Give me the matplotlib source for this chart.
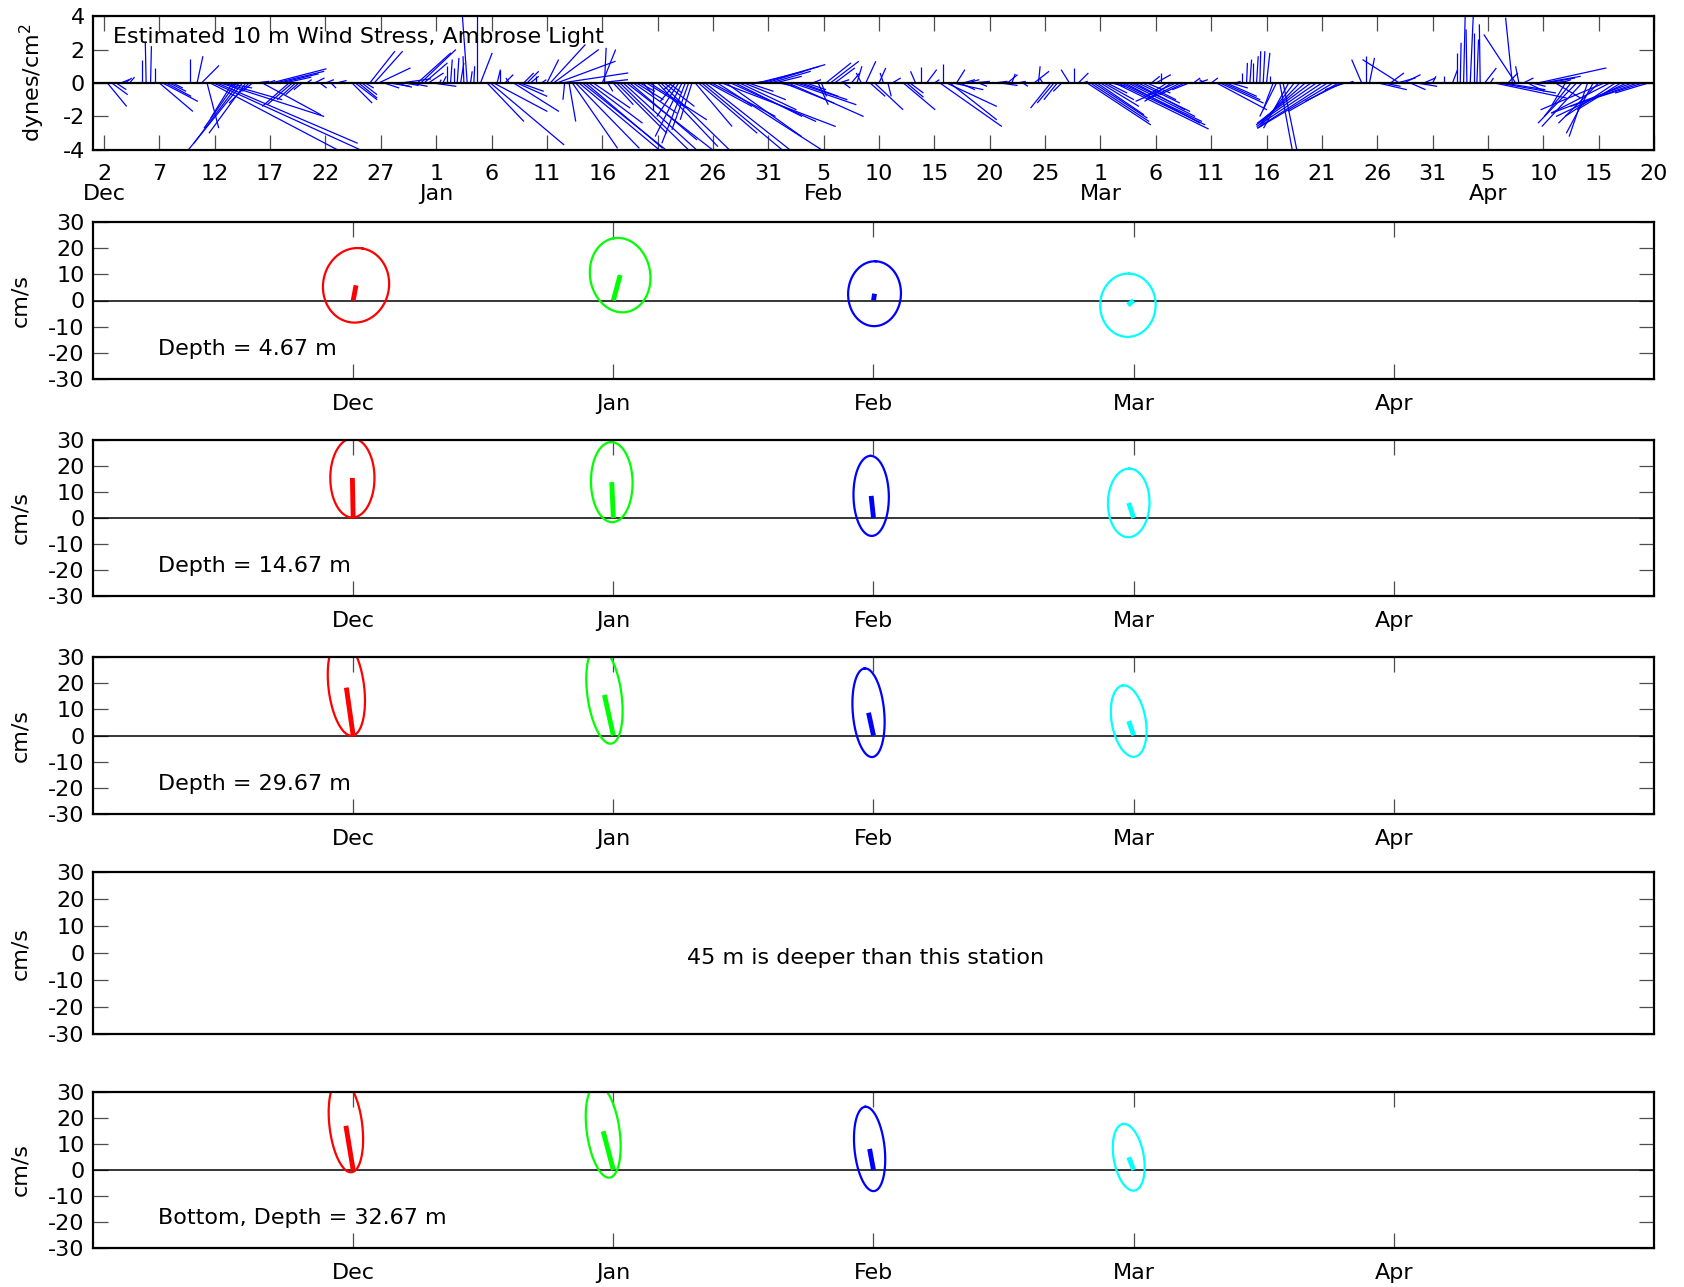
import datetime as dt
import numpy as np
import matplotlib.pyplot as plt
from matplotlib.collections import LineCollection

plt.rcParams['font.family'] = ['DejaVu Sans']
plt.rcParams['font.size'] = 16
plt.rcParams['axes.unicode_minus'] = False

# ---------------------------------------------------------------------------
# wind stress sticks: day after 1 Dec, east and north stress (dynes/cm^2)
# ---------------------------------------------------------------------------
wind_day = [
    1.3, 1.7, 2.1, 2.5, 2.9, 3.3, 4.4, 4.8, 5.2, 5.6, 6.0, 6.3, 6.6, 6.9, 7.2, 8.8, 9.4, 9.8,
    10.3, 10.6, 10.9, 11.2, 11.5, 11.8, 12.1, 12.6, 12.9, 13.2, 13.5, 13.8, 14.1, 14.4, 14.7,
    15.3, 15.7, 16.1, 16.5, 16.9, 17.3, 17.7, 18.0, 18.3, 18.6, 18.9, 19.3, 20.0, 20.5, 21.0, 21.5, 22.0,
    23.4, 23.7, 24.0, 24.3, 24.6, 25.0, 25.4, 25.8, 26.3, 26.8, 27.3, 27.8, 28.2, 28.7, 29.3, 29.6, 29.9, 30.3, 30.7,
    31.3, 31.6, 32.0, 32.3, 32.6, 32.9, 33.2, 33.5, 33.8, 34.1, 34.4, 34.7, 35.0,
    35.6, 35.9, 36.2, 36.5, 36.8, 37.2, 37.6, 38.0, 38.3, 38.6, 38.9, 39.2, 39.5, 40.0, 40.5,
    41.0, 41.3, 41.6, 41.9, 42.3, 42.6, 43.0, 43.3, 43.6, 43.9, 44.2, 44.5, 44.8, 45.2, 45.6, 46.0, 46.2, 46.5,
    47.0, 47.3, 47.6, 47.9, 48.2, 48.5, 48.8, 49.1, 49.4, 49.7, 50.0, 50.3, 50.6, 51.0, 51.3,
    51.6, 52.0, 52.3, 52.6, 52.9, 53.2, 53.5, 53.8, 54.1, 54.4, 54.7, 55.0, 55.3, 55.6, 55.9,
    56.4, 56.8, 57.2, 57.6, 58.0, 58.4, 58.8, 59.2, 59.6, 60.0, 60.4, 60.8, 61.2, 61.6, 62.0,
    62.4, 62.8, 63.2, 63.6, 64.0, 64.4, 65.0, 65.5, 65.8, 66.2, 66.6, 67.0, 67.4, 67.8,
    68.5, 69.0, 69.4, 69.8, 70.2, 70.6, 71.0, 71.4, 71.8, 72.2, 73.2, 73.5, 73.8, 74.3, 74.8,
    75.3, 76.0, 76.5, 76.8, 77.1, 77.4, 77.7, 78.0, 78.3, 78.6, 79.0, 79.5, 80.0,
    81.4, 82.0, 82.6, 83.0, 83.5, 84.0, 85.0, 85.4, 85.8, 86.5, 86.8, 87.1, 87.5, 88.2, 88.6, 89.0, 89.4,
    89.8, 90.1, 90.4, 90.7, 91.0, 91.3, 91.6, 92.0, 92.3, 92.6, 92.9, 93.2, 93.5, 93.8, 94.1,
    94.4, 94.8, 95.2, 95.6, 96.0, 96.5, 97.0, 97.4, 97.8, 98.2, 98.6, 99.0, 99.4, 99.8, 100.4,
    101.0, 101.5, 101.8, 102.1, 102.4, 102.8, 103.2, 103.8, 104.2, 104.5, 104.8, 105.1, 105.4, 105.7, 106.0,
    106.3, 106.6, 106.9, 107.2, 107.5, 108.0, 108.5, 109.0, 109.5, 110.0, 110.5, 111.0, 111.5, 112.0,
    112.5, 112.8, 113.1, 113.4,
    114.6, 115.0, 115.3, 116.1, 116.6, 117.2, 117.8, 118.0, 118.4, 119.0,
    119.6, 120.2, 121.0, 122.0, 122.8, 123.2, 123.5, 123.8, 124.1, 124.4,
    124.7, 125.0, 125.3, 125.7, 126.2, 126.6, 127.0, 127.4, 127.8, 128.2,
    128.5, 128.8, 129.2, 129.6, 130.0, 130.5, 130.9, 131.3, 131.7, 132.1,
    132.6, 133.0, 133.5, 134.0, 134.5, 135.0, 135.5, 136.0, 136.5, 137.0,
    137.5, 138.0, 138.5, 139.0, 139.5, 140.0, 140.5,
]
wind_u = [
    1.15, 0.95, 0.6, 0.5, 0.4, 0.3, 0.0, -0.05, 0.05, 0.0, 2.0, 2.1, 1.5, 1.0, 0.6, 0.0, 0.35, 1.05,
    0.7, 7.8, 9.0, 8.4, 6.2, 3.5, 1.5, -1.3, -1.9, -2.7, -3.4, -2.2, -1.2, -0.6, 0.8,
    3.5, 0.5, 3.3, 2.9, 2.3, 1.6, -1.6, -1.5, -1.1, -0.8, -0.5, 0.3, 0.6, 0.4, 0.5, 0.3, 0.6,
    1.2, 1.3, 1.1, 0.9, 0.5, 1.5, 1.7, 1.9, 0.9, 1.2, 1.0, 1.8, 0.8, 1.0, 2.0, 2.1, 1.4, 0.9, 1.4,
    0.1, 0.2, 0.0, 0.1, 0.0, 0.1, 0.2, -0.05, -0.3, 0.1, 0.05, 0.0, 0.7,
    2.2, 4.4, 3.2, 0.2, 0.0, 0.5, -0.2, 2.7, 1.8, 1.4, 0.6, 0.7, 0.5, 0.0, 0.3,
    0.7, 2.1, 2.7, 3.5, 4.0, -0.1, 0.4, 2.7, 3.8, 4.8, 5.0, 4.6, 3.2, 2.2, 1.8, 0.8, 0.1, 0.3,
    1.2, 3.0, 4.2, 4.6, 5.4, 4.0, 2.6, 1.6, 0.9, 0.6, 2.4, 3.4, 0.0, 3.6, 4.2,
    1.8, 0.8, -0.5, -0.9, -1.3, -1.6, -1.4, -1.0, -0.7, 2.2, 3.5, 4.8, 5.2, 2.6, 3.8,
    6.4, 6.8, 4.5, 5.1, 4.0, 3.4, 2.5, 1.5, 0.8, 2.8, 3.8, 3.2, 2.4, 1.6, 0.9,
    3.0, 4.5, 3.8, 3.0, 2.2, 1.2, 0.5, 0.6, 0.3, 1.5, 1.7, 1.2, 0.6, 0.4,
    0.5, 0.3, -0.3, 0.6, 0.9, 1.7, 0.4, -0.2, 0.2, 0.5, 1.9, 1.0, 0.8, -0.3, 0.0,
    0.6, 0.3, 3.7, 0.0, 3.0, 2.8, 1.8, 0.5, 0.9, 0.7, 0.7, 1.0, 0.5,
    0.8, 1.0, 0.6, 0.2, 0.5, 0.3, 0.9, 0.1, -0.2, -1.2, -1.0, -0.8, -0.5, -0.5, 0.0, 0.6, 0.3,
    3.8, 3.5, 3.2, 2.8, 2.3, 1.8, 1.2, 0.8, 5.6, 5.2, 4.8, 4.5, 4.0, 3.5, 3.0,
    2.5, 2.0, 1.4, 0.5, 0.9, 0.0, -1.4, -1.6, -2.4, -2.0, -1.5, -1.0, 0.4, 0.6, -0.3,
    0.4, 3.0, 2.6, 2.2, 1.8, 1.0, 0.3, 0.0, 0.05, 0.1, 0.0, 0.1, 0.05, 0.1, 0.2,
    0.0, -0.6, -1.0, 0.8, 0.9, -1.5, -2.0, -2.4, -2.8, -3.2, -3.6, -3.9, -4.2, -4.5,
    -3.0, -2.2, -1.2, 0.3,
    -0.6, 0.0, 0.3, 1.7, 1.0, 0.8, 1.1, -2.2, 1.0, 0.9,
    1.2, 0.7, 0.2, 0.0, 0.3, 0.0, 0.05, 0.1, -0.05, 0.2,
    0.0, 0.1, -0.05, 0.7, 0.2, 4.3, 3.4, 2.5, 0.6, -0.4,
    -1.9, -0.2, 0.6, 1.0, 0.8, 4.1, 2.3, 1.7, 0.9, 1.5,
    0.6, -0.8, -1.6, -2.3, -2.4, -1.1, -1.6, -2.4, -3.8, -3.5,
    -3.0, -2.6, -4.2, -4.8, -4.0, -3.2, -2.0,
]
wind_v = [
    -1.4, -0.7, -0.4, 0.2, 0.3, 0.35, 1.4, 2.4, 2.2, 0.9, -1.7, -1.1, -0.8, -0.5, -0.3, 1.45, 1.6, 1.05,
    -2.7, -4.1, -4.1, -3.6, -2.0, -1.0, -0.3, -2.1, -2.7, -3.6, -4.2, -3.0, -1.2, -0.5, 0.1,
    -1.9, 0.15, 0.85, 0.7, 0.55, 0.35, -1.4, -1.3, -1.0, -0.7, -0.4, 0.2, 0.3, -0.3, 0.2, -0.3, 0.15,
    -1.2, -1.0, -0.9, -0.7, -0.3, 1.9, 1.9, 0.9, -0.3, -0.2, -0.25, 0.25, -0.15, -0.2, 1.8, 2.0, 1.2, 0.6, -0.2,
    0.2, 0.4, 1.0, 1.4, 0.9, 1.5, 1.2, 1.6, 4.2, 0.7, 1.0, 4.3, 1.8,
    -2.3, -3.7, -1.7, 0.8, 0.8, 0.5, 0.3, -1.7, -0.8, -0.5, 0.6, 0.7, 0.4, 0.4, 0.2,
    1.4, 2.3, 2.0, 1.3, 0.6, -1.0, -2.3, -3.9, -3.9, -4.0, -4.0, -3.9, -2.4, -1.5, 0.2, 2.0, 2.1, -0.5,
    -1.3, -3.0, -4.1, -4.2, -4.2, -3.4, -1.8, -1.0, -0.5, -0.7, -1.5, -2.2, -1.6, -3.8, -4.1,
    -1.4, -0.6, -0.4, -1.1, -2.0, -3.2, -3.6, -2.8, -2.2, -2.6, -3.0, -4.0, -4.1, -1.4, -2.0,
    -4.1, -2.6, -3.2, -2.3, -2.0, -1.6, -1.0, -0.5, 0.1, 0.7, 1.1, 1.0, 0.7, 0.4, -0.2,
    -1.2, -2.0, -1.3, -1.0, -0.8, -0.4, 0.2, -1.3, -0.8, 1.2, 1.3, 0.9, 0.2, -0.3,
    0.6, 1.0, 0.6, 1.3, -0.8, -1.6, 0.9, 0.6, -0.8, 0.3, -1.6, -0.85, -0.6, 0.7, 0.95,
    0.8, 0.2, -2.6, 1.15, -1.4, -2.2, -0.4, 0.8, -0.4, 0.2, 0.2, 0.1, -0.2,
    0.1, -0.15, 0.5, 0.55, 0.1, -0.2, 0.7, 1.0, 0.3, -1.5, -1.2, -1.0, -0.5, 0.8, 0.9, 0.6, 0.1,
    -2.5, -2.3, -2.1, -1.9, -1.4, -1.0, -0.6, -0.2, -2.75, -2.5, -2.3, -2.4, -2.0, -1.7, -1.6,
    -1.2, -1.0, -0.6, 0.4, 0.5, 0.6, -0.9, -1.1, -1.1, -1.0, -0.7, -0.4, 0.3, 0.2, 0.2,
    0.3, -1.6, -1.2, -1.0, -0.8, -0.3, 0.1, 0.6, 1.2, 1.4, 1.2, 1.6, 1.9, 1.9, 1.8,
    0.4, -1.6, -2.0, -4.3, -4.4, -2.7, -2.6, -2.5, -2.4, -2.4, -2.5, -2.6, -2.7, -2.7,
    -1.7, -1.1, -0.4, 0.1,
    1.4, 1.6, 1.5, -0.4, -0.2, 0.6, 0.3, 1.4, 0.5, -0.4,
    -0.2, 0.3, 0.4, 0.4, 0.8, 1.8, 2.4, 4.2, 3.2, 4.4,
    3.0, 2.6, 3.5, 0.9, 0.3, -0.9, -0.6, -0.4, 0.6, 3.9,
    2.9, 1.0, 0.3, -0.5, -0.2, 0.9, 0.4, 0.3, 0.1, -0.9,
    0.2, -1.3, -2.0, -2.4, -2.6, -3.2, -3.0, -2.4, -1.6, -1.8,
    -2.0, -1.6, -2.0, -1.8, -1.4, -1.0, -0.6,
]
wind_yticks = [-4, -2, 0, 2, 4]

# ---------------------------------------------------------------------------
# monthly mean currents and variance ellipses (cm/s), rows = depth panels
# ---------------------------------------------------------------------------
month_names = ['Dec', 'Jan', 'Feb', 'Mar', 'Apr']
month_pos = [1, 2, 3, 4, 5]
depth_text = ['Depth = 4.67 m', 'Depth = 14.67 m', 'Depth = 29.67 m', 'Bottom, Depth = 32.67 m']
mean_u = [[1.1, 2.6, 0.4, -2.2], [-0.3, -0.6, -0.9, -1.9], [-2.6, -3.4, -1.9, -1.9], [-2.8, -3.9, -1.5, -1.9]]
mean_v = [[5.8, 9.7, 2.6, -1.8], [15.4, 13.8, 8.5, 5.8], [18.3, 15.5, 8.7, 5.5], [17.0, 14.9, 8.1, 4.9]]
ell_major = [[14.3, 14.3, 12.4, 12.1], [15.2, 15.4, 15.4, 13.2], [18.5, 18.8, 17.0, 13.8], [18.0, 18.0, 16.3, 13.0]]
ell_minor = [[12.6, 11.5, 10.1, 10.6], [8.5, 8.0, 6.8, 8.0], [6.8, 6.5, 6.0, 6.5], [6.3, 6.3, 5.8, 5.8]]
ell_angle = [[80, 100, 88, 88], [90, 91, 91, 89], [97, 98, 95, 100], [97, 98, 96, 100]]
month_colors = [(1, 0, 0), (0, 1, 0), (0, 0, 1), (0, 1, 1)]

FIG_W, FIG_H = 1684, 1287
fig = plt.figure(figsize=(FIG_W / 100, FIG_H / 100), dpi=100)


def add_panel(top, bottom):
    return fig.add_axes([93 / FIG_W, 1 - bottom / FIG_H, 1561 / FIG_W, (bottom - top) / FIG_H])


def box_style(ax, xpad=10):
    ax.tick_params(direction='in', length=11, width=0.9, color='0.3', top=True, right=True, labelsize=16)
    ax.tick_params(axis='x', pad=xpad)
    ax.tick_params(axis='y', pad=6)
    for sp in ax.spines.values():
        sp.set_linewidth(1.6)


def aspect_factor(ax):
    # x units per y unit so that a vector keeps its direction on the page
    bb = ax.get_position()
    x0, x1 = ax.get_xlim()
    y0, y1 = ax.get_ylim()
    return ((x1 - x0) / (bb.width * FIG_W)) / ((y1 - y0) / (bb.height * FIG_H))


# ---- wind stress panel
ax = add_panel(16, 150)
ax.set_xlim(0, 141)
ax.set_ylim(-4, 4)
k = aspect_factor(ax)
segs = [[(d, 0.0), (d + k * u, v)] for d, u, v in zip(wind_day, wind_u, wind_v)]
ax.add_collection(LineCollection(segs, colors='blue', linewidths=0.9))
ax.axhline(0, color='k', lw=1.6)
box_style(ax, xpad=10)
ax.set_yticks(wind_yticks)

start = dt.date(1999, 12, 1)
tick_days = list(range(1, 142, 5))
tick_labels = []
seen = set()
for d in tick_days:
    date = start + dt.timedelta(days=d)
    lab = str(date.day)
    if date.month not in seen:
        seen.add(date.month)
        lab += '\n' + date.strftime('%b')
    tick_labels.append(lab)
ax.set_xticks(tick_days)
ax.set_xticklabels(tick_labels, linespacing=1.0)
ax.set_ylabel('dynes/cm$^2$')
ax.yaxis.set_label_coords(-0.0295, 0.5)
ax.text(0.0128, 0.847, 'Estimated 10 m Wind Stress, Ambrose Light', transform=ax.transAxes, va='center')

# ---- current panels
panel_px = [(222, 379), (440, 596), (657, 814), (872, 1034), (1092, 1248)]
panel_rows = [0, 1, 2, None, 3]
t = np.linspace(0, 2 * np.pi, 240)

for (top, bot), row in zip(panel_px, panel_rows):
    ax = add_panel(top, bot)
    ax.set_xlim(0, 6)
    ax.set_ylim(-30, 30)
    box_style(ax, xpad=11)
    ax.set_yticks(range(-30, 31, 10))
    ax.set_ylabel('cm/s')
    ax.yaxis.set_label_coords(-0.040, 0.5)
    if row is None:
        ax.set_xticks([])
        ax.text(0.495, 0.47, '45 m is deeper than this station', transform=ax.transAxes,
                ha='center', va='center')
        continue
    ax.set_xticks(month_pos)
    ax.set_xticklabels(month_names)
    ax.axhline(0, color='k', lw=1.1)
    k = aspect_factor(ax)
    for m in range(4):
        x0 = month_pos[m]
        u, v = mean_u[row][m], mean_v[row][m]
        a, b = ell_major[row][m], ell_minor[row][m]
        th = np.deg2rad(ell_angle[row][m])
        ex = u + a * np.cos(t) * np.cos(th) - b * np.sin(t) * np.sin(th)
        ey = v + a * np.cos(t) * np.sin(th) + b * np.sin(t) * np.cos(th)
        ax.plot(x0 + k * ex, ey, color=month_colors[m], lw=1.6)
        ax.plot([x0, x0 + k * u], [0, v], color=month_colors[m], lw=3.5, solid_capstyle='butt')
    ax.text(0.25, -18.5, depth_text[row], va='center')

fig.savefig('out.png', dpi=100)
